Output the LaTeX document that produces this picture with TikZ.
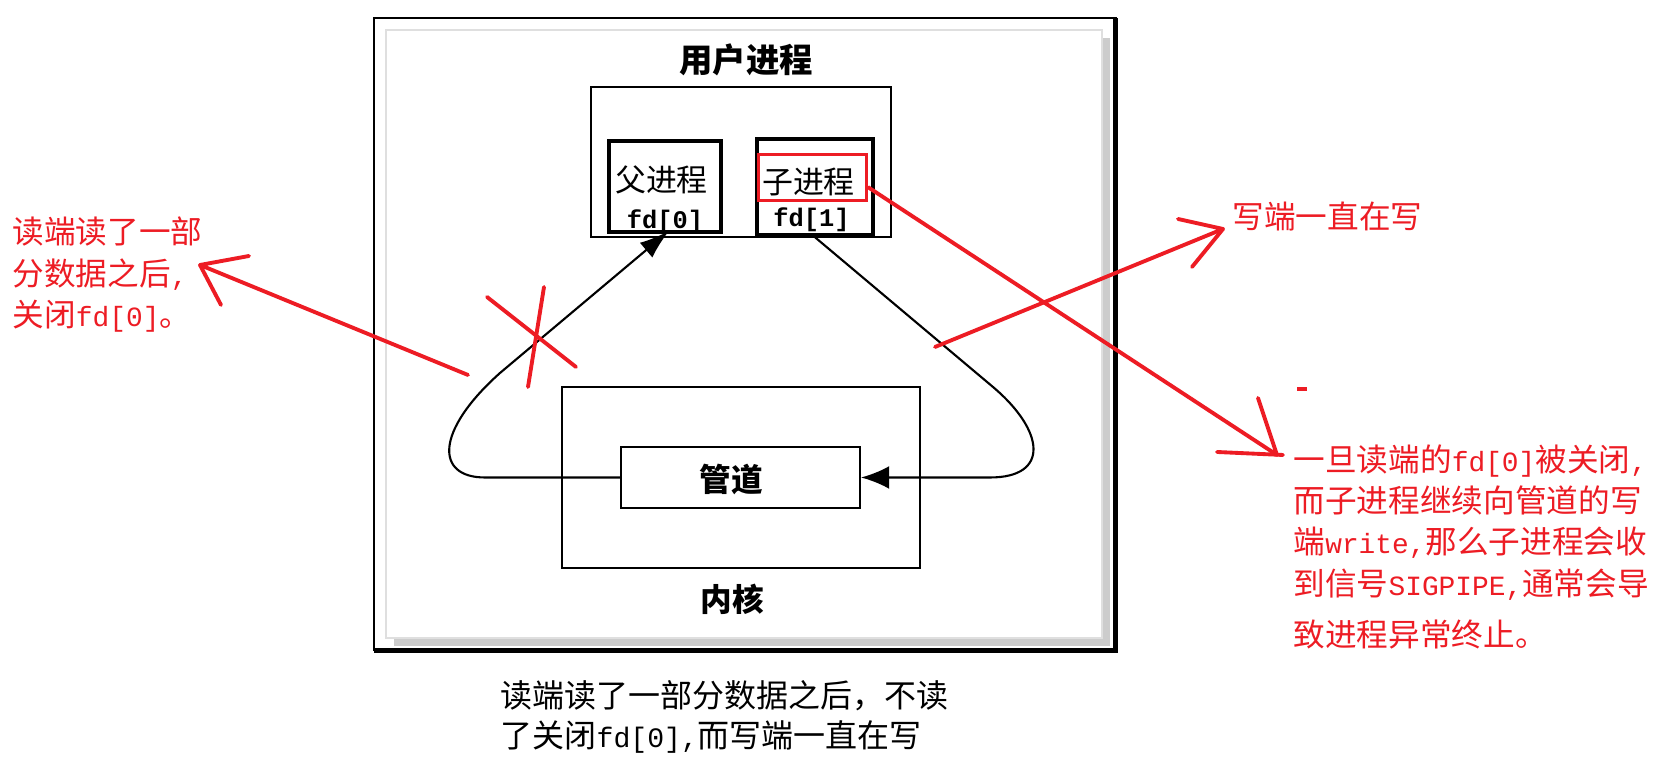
\documentclass[tikz,border=0pt]{standalone}
\usepackage{fontspec}
\setmainfont{Noto Sans CJK SC}
\newfontfamily\monofont{Liberation Mono}[Scale=0.88]
\usepackage{xcolor}
\usepackage{tikz}
\usetikzlibrary{arrows.meta,calc,positioning}
\definecolor{inkred}{RGB}{237,28,36}
\newcommand{\ascii}[1]{{\monofont #1}}

\begin{document}
\begin{tikzpicture}[
  box/.style={draw,line width=0.6pt,inner sep=0pt},
  procbox/.style={draw,line width=1.3pt,inner sep=0pt},
  lbl/.style={inner sep=0pt,font=\fontsize{8.8}{10}\selectfont},
  fdlbl/.style={inner sep=0pt,font=\fontsize{8.2}{10}\selectfont\monofont\bfseries},
  head/.style={inner sep=0pt,font=\fontsize{9}{11}\selectfont\bfseries},
  wire/.style={line width=0.6pt},
  redpen/.style={draw=inkred,line width=1.1pt,line cap=round,line join=round},
  note/.style={text=inkred,inner sep=0pt,align=left,font=\fontsize{9}{11.8}\selectfont}]
  \fill[white] (0,0) rectangle (16.71,7.66);
  \useasboundingbox (0,0) rectangle (16.71,7.66);

  \draw[line width=0.5pt] (3.74,1.16) rectangle (11.16,7.48);
  \draw[line width=1.3pt] (3.74,1.155) -- (11.155,1.155) -- (11.155,7.48);
  \fill[gray!40] (3.94,1.20) rectangle (11.10,7.28);
  \filldraw[fill=white,draw=gray!25] (3.86,1.28) rectangle (11.02,7.36);

  \node[head,font=\fontsize{9.5}{11}\selectfont\bfseries] (usertitle) at (7.46,7.06) {用户进程};
  \node[box,minimum width=3.00cm,minimum height=1.50cm] (user) at (7.41,6.04) {};
  \node[procbox,minimum width=1.12cm,minimum height=0.91cm] (parent) at (6.65,5.795) {};
  \node[procbox,minimum width=1.16cm,minimum height=0.96cm] (child) at (8.15,5.79) {};
  \node[draw=inkred,line width=1pt,inner sep=0pt,minimum width=1.08cm,minimum height=0.46cm] (childmark) at (8.125,5.885) {};
  \node[lbl] (parentlbl) at (6.615,5.86) {父进程};
  \node[lbl] (childlbl) at (8.085,5.84) {子进程};
  \node[fdlbl] (fdzero) at (6.65,5.44) {fd[0]};
  \node[fdlbl] (fdone) at (8.115,5.46) {fd[1]};

  \node[box,minimum width=3.58cm,minimum height=1.81cm] (kernel) at (7.41,2.885) {};
  \node[box,minimum width=2.39cm,minimum height=0.61cm] (pipe) at (7.405,2.885) {};
  \node[head] (pipelbl) at (7.31,2.86) {管道};
  \node[head] (kernellbl) at (7.32,1.67) {内核};

  \draw[wire,-{Latex[length=8.5pt,width=5.5pt]},shorten >=-1.5pt] (pipe.west) -- (4.85,2.885) .. controls (4.35,2.885) and (4.35,3.35) .. (5.00,3.93) -- (parent.south);
  \draw[wire,-{Latex[length=8pt,width=6.5pt]}] (child.south) -- (9.93,3.79) .. controls (10.45,3.35) and (10.50,2.885) .. (9.90,2.885) -- (pipe.east);

  \node[note,anchor=west] (readnote) at (0.12,4.91) {读端读了一部\\分数据之后\ascii{,}\\关闭\ascii{fd[0]}。};
  \node[note,anchor=west] (writenote) at (12.32,5.49) {写端一直在写};
  \node[note,anchor=west] (signote) at (12.93,2.195) {一旦读端的\ascii{fd[0]}被关闭\ascii{,}\\而子进程继续向管道的写\\端\ascii{write,}那么子进程会收\\到信号\ascii{SIGPIPE,}通常会导\\[2.6pt]致进程异常终止。};
  \node[inner sep=0pt,align=left,anchor=west,font=\fontsize{9.1}{11.4}\selectfont] (caption) at (5.00,0.49) {读端读了一部分数据之后，不读\\了关闭\ascii{fd[0],}而写端一直在写};

  \coordinate (xa1) at (4.87,4.69);
  \coordinate (xa2) at (5.76,3.99);
  \coordinate (xb1) at (5.44,4.79);
  \coordinate (xb2) at (5.28,3.79);
  \draw[redpen] (xa1) -- (xa2);
  \draw[redpen] (xb1) -- (xb2);

  \coordinate (readtail) at (4.68,3.91);
  \coordinate (readtip) at (2.00,5.01);
  \draw[redpen] (readtail) -- (readtip) -- (2.49,5.10);
  \draw[redpen] (readtip) -- (2.21,4.61);

  \coordinate (writetail) at (9.35,4.19);
  \coordinate (writetip) at (12.23,5.37);
  \draw[redpen] (writetail) -- (writetip) -- (11.78,5.47);
  \draw[redpen] (writetip) -- (11.92,4.99);

  \coordinate (sigtip) at (12.77,3.11);
  \draw[redpen] (childmark.-10) -- (sigtip) -- (12.58,3.68);
  \draw[redpen] (12.17,3.14) -- (12.83,3.11);
  \draw[redpen,line cap=butt] (12.97,3.77) -- (13.07,3.77);
\end{tikzpicture}
\end{document}
